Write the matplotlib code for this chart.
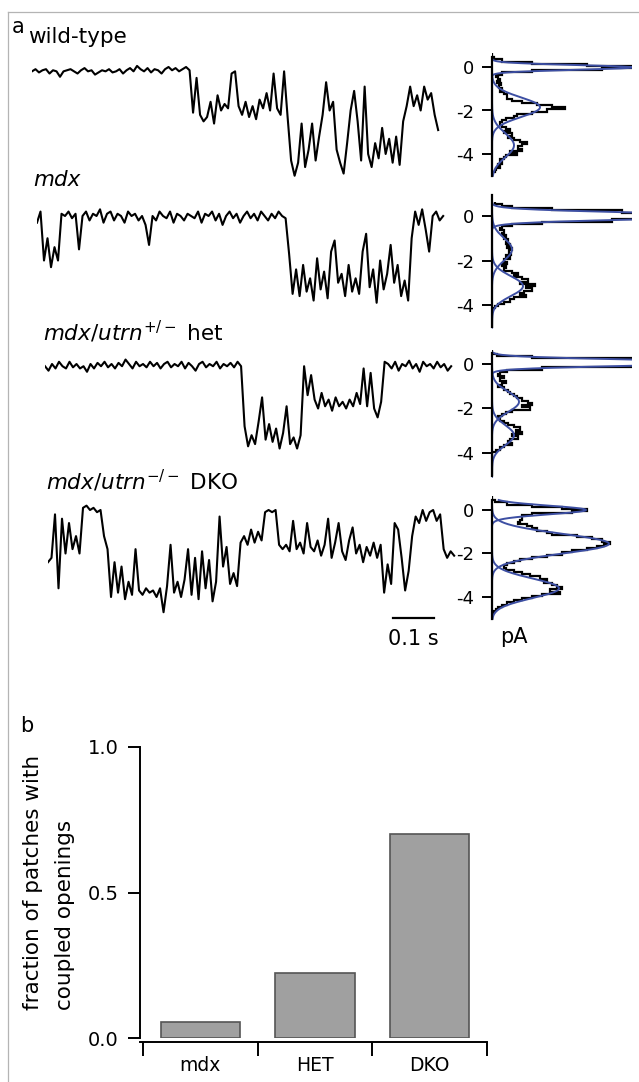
import numpy as np
import matplotlib
matplotlib.use('Agg')
import matplotlib.pyplot as plt
from matplotlib.lines import Line2D

plt.rcParams['font.family'] = ['DejaVu Sans']
plt.rcParams['axes.unicode_minus'] = False
plt.rcParams['mathtext.fontset'] = 'dejavusans'

W, H = 639, 1082

# ---------------- panel a: single-channel traces (pA), sampled every dt seconds
dt = 0.00854

trace_wt = [
    -0.2, -0.1, -0.25, -0.15, -0.1, -0.3, -0.15, -0.2, -0.45, -0.2,
    -0.15, -0.1, -0.2, -0.3, -0.15, -0.05, -0.2, -0.15, -0.35, -0.25,
    -0.15, -0.2, -0.1, -0.25, -0.2, -0.1, -0.3, -0.15, -0.05, -0.2,
    0.05, -0.1, -0.2, -0.05, -0.25, -0.1, -0.15, -0.3, -0.1, 0.0,
    -0.15, -0.05, -0.2, -0.1, 0.0, -0.15,
    -2.1, -0.5, -2.2, -2.5, -2.3, -1.6, -2.6, -1.3, -2.0, -1.7,
    -1.9, -0.3, -0.2, -1.8, -2.2, -1.6, -2.3, -1.8, -2.4, -1.5,
    -1.9, -1.2, -2.0, -0.3, -1.9, -2.2, -0.2, -2.3,
    -4.3, -5.0, -4.4, -2.6, -4.6, -3.8, -2.6, -4.3, -3.2,
    -2.2, -0.7, -2.0, -1.6, -3.8, -4.4, -4.9, -3.5, -2.0, -1.1,
    -2.5, -4.3, -0.9, -4.0, -4.6, -3.5, -4.2, -2.8, -4.0, -3.3,
    -4.4, -3.2, -4.5, -2.5, -1.8, -0.9, -1.8, -1.3, -2.0, -0.9,
    -1.5, -1.2, -2.2, -2.9,
]

trace_mdx = [
    -0.3, 0.2, -2.0, -1.0, -2.3, -1.4, -2.0,
    0.1, 0.0, 0.2, -0.1, 0.1, -1.5, 0.0, 0.2, -0.2, 0.1,
    0.0, 0.3, -0.3, 0.1, 0.2, -0.2, 0.1, 0.0, -0.3, 0.2,
    0.0, 0.1, -0.2, 0.0, -0.4, -1.3, 0.0, -0.2, 0.2, 0.0,
    -0.1, 0.2, -0.3, 0.1, 0.0, -0.2, 0.1, 0.0, -0.1, 0.2,
    -0.3, 0.1, 0.0, 0.2, -0.2, 0.1, -0.4, 0.0, 0.2, -0.1,
    0.1, -0.3, 0.0, 0.2, -0.1, 0.1, -0.2, 0.2, 0.0, -0.2,
    0.1, -0.1, 0.2, 0.0, -0.1,
    -1.7, -3.5, -2.4, -3.6, -2.2, -3.4, -2.8, -3.8, -1.9, -3.3,
    -2.5, -3.7, -1.6, -1.1, -3.0, -2.6, -3.6, -2.2, -3.4, -2.8,
    -3.5, -1.6, -0.8, -3.2, -2.4, -3.9, -2.0, -3.3, -2.6, -1.3,
    -3.0, -2.2, -3.6, -2.9, -3.8, -1.0, 0.2, -0.4, 0.3, -0.6,
    -1.6, 0.0, 0.2, -0.2, 0.0,
]

trace_het = [
    -0.1, -0.3, 0.0, -0.2, 0.1, -0.1, -0.2, 0.1, -0.15, 0.0,
    -0.2, -0.1, -0.35, 0.0, -0.2, 0.05, -0.1, 0.1, -0.15, 0.0,
    -0.2, 0.05, -0.1, 0.2, 0.0, -0.2, 0.1, -0.1, 0.0, -0.15,
    0.1, -0.1, 0.05, -0.2, 0.0, 0.1, -0.15, 0.0, -0.1, 0.1,
    -0.2, 0.05, -0.1, -0.3, 0.0, 0.1, -0.15, 0.0, -0.1, 0.1,
    -0.2, 0.0, -0.1, 0.05, -0.15, 0.1, -0.1,
    -2.8, -3.7, -3.2, -3.6, -2.6, -1.5, -3.4, -2.7, -3.5, -2.9,
    -3.8, -3.1, -1.9, -3.6, -3.3, -3.8, -3.2,
    -0.1,
    -1.4, -0.5, -1.6, -2.0, -1.3, -1.9, -1.6, -2.1, -1.5, -1.9,
    -1.7, -2.0, -1.6, -1.9, -1.3, -1.8, -0.2, -1.9, -0.4, -2.0,
    -2.4, -1.7,
    0.1,
    0.0, -0.2, 0.1, -0.3, 0.0, -0.1, 0.15, -0.2, 0.0, -0.35,
    0.1, -0.1, 0.0, -0.2, 0.1, -0.15, 0.0, -0.3, -0.1,
]

trace_dko = [
    -2.4, -2.2, -0.2, -3.6, -0.4, -2.0, -0.6, -1.8, -1.2, -2.0,
    0.1, 0.2, 0.0, 0.1, -0.1, 0.0, -1.2, -1.8, -4.0, -2.4,
    -3.8, -2.6, -4.1, -3.3, -3.9, -1.8, -3.7, -3.9, -3.6, -3.8,
    -3.7, -4.0, -3.6, -4.7, -3.5, -1.6, -3.8, -3.3, -4.0, -3.2,
    -1.8, -3.9, -2.2, -4.1, -1.9, -3.6, -2.3, -4.2, -3.3, -0.3,
    -2.6, -1.7, -3.4, -2.9, -3.5, -1.5, -1.2, -1.6, -0.9, -1.5,
    -1.0, -1.4, -0.1, 0.0, -0.1, 0.0, -1.6, -1.8, -1.6, -1.9,
    -0.5, -1.8, -1.5, -2.0, -0.6, -1.7, -1.9, -1.4, -2.1, -1.6,
    -0.4, -2.2, -1.5, -0.6, -1.9, -2.3, -1.4, -0.8, -2.0, -1.6,
    -2.4, -1.7, -2.1, -1.5, -2.2, -1.6, -3.8, -2.5, -3.4, -0.6,
    -0.9, -2.2, -3.7, -2.8, -1.2, -0.3, -0.6, 0.0, -0.5, -0.1,
    0.0, -0.5, -0.2, -1.8, -2.2, -1.9, -2.1,
]

# amplitude histograms: counts in 0.1 pA bins centred from +0.6 down to -5.0 pA
hist_centers = np.round(np.arange(0.6, -5.05, -0.1), 1)

hist_wt = [0, 0, 2, 10, 40, 95, 140, 110, 40, 10,
           4, 6, 8, 5, 9, 7, 10, 8, 12, 15,
           15, 20, 30, 45, 60, 73, 55, 40, 25, 22,
           14, 10, 8, 10, 14, 18, 12, 20, 16, 22,
           28, 35, 30, 26, 30, 18, 25, 14, 12, 8,
           10, 6, 8, 4, 3, 0, 0]
hist_mdx = [3, 10, 20, 60, 130, 220, 250, 200, 120, 50,
            20, 10, 8, 12, 10, 14, 12, 16, 14, 18,
            15, 20, 17, 19, 14, 18, 12, 15, 10, 14,
            12, 20, 26, 22, 30, 36, 28, 43, 34, 40,
            32, 28, 34, 22, 18, 12, 6, 3, 0, 0,
            0, 0, 0, 0, 0, 0, 0]
hist_het = [0, 0, 5, 40, 150, 260, 250, 150, 50, 15,
            8, 6, 12, 8, 14, 10, 6, 12, 16, 18,
            22, 25, 30, 36, 40, 30, 38, 20, 14, 10,
            6, 8, 12, 16, 22, 28, 24, 30, 20, 26,
            18, 16, 20, 12, 8, 4, 0, 0, 0, 0,
            0, 0, 0, 0, 0, 0, 0]
hist_dko = [0, 0, 3, 15, 40, 70, 95, 80, 40, 30,
            30, 28, 26, 35, 40, 45, 55, 60, 85, 100,
            110, 118, 112, 105, 95, 80, 70, 55, 40, 28,
            22, 15, 12, 14, 22, 30, 38, 48, 55, 52,
            60, 65, 70, 58, 68, 50, 40, 30, 22, 15,
            10, 6, 4, 2, 0, 0, 0]

# gaussian fits to each histogram: amplitude, mean (pA), sd (pA)
fit_wt_amp = [140, 48, 22]
fit_wt_mu = [-0.02, -1.85, -3.6]
fit_wt_sd = [0.11, 0.45, 0.55]
fit_mdx_amp = [230, 20, 31]
fit_mdx_mu = [0.0, -1.5, -3.15]
fit_mdx_sd = [0.16, 0.5, 0.45]
fit_het_amp = [230, 27, 22]
fit_het_mu = [0.06, -1.7, -3.2]
fit_het_sd = [0.14, 0.45, 0.45]
fit_dko_amp = [94, 117, 67]
fit_dko_mu = [0.0, -1.55, -3.6]
fit_dko_sd = [0.2, 0.45, 0.45]

hist_ticks = [0, -2, -4]
hist_ticklabels = ['0', '-2', '-4']

# ---------------- panel b
genotypes = ['mdx', 'HET', 'DKO']
fraction_coupled = [0.055, 0.225, 0.70]


def px_rect(left, top, right, bottom):
    return [left / W, 1 - bottom / H, (right - left) / W, (bottom - top) / H]


fig = plt.figure(figsize=(W / 100, H / 100), dpi=100)

# light frame around the figure
fig.add_artist(Line2D([8 / W, 1], [1 - 12 / H, 1 - 12 / H], color='#b4b4b4', lw=0.9))
fig.add_artist(Line2D([8 / W, 8 / W], [0, 1 - 12 / H], color='#b4b4b4', lw=0.9))

YLO, YHI = -5.6, 1.1
rows = [
    (trace_wt, hist_wt, (fit_wt_amp, fit_wt_mu, fit_wt_sd), 67, 21.75, 32, (0.46, -5.0)),
    (trace_mdx, hist_mdx, (fit_mdx_amp, fit_mdx_mu, fit_mdx_sd), 216, 22.25, 37, (0.94, -5.0)),
    (trace_het, hist_het, (fit_het_amp, fit_het_mu, fit_het_sd), 364, 22.25, 45, (0.5, -5.05)),
    (trace_dko, hist_dko, (fit_dko_amp, fit_dko_mu, fit_dko_sd), 510, 21.75, 48, (0.46, -5.0)),
]

c_inc = hist_centers[::-1]
edges = np.append(c_inc - 0.05, c_inc[-1] + 0.05)

trace_axes = []
for trace, hist, fit, y0, s, x0, (sp_top, sp_bot) in rows:
    top, bot = y0 - YHI * s, y0 - YLO * s
    ax = fig.add_axes(px_rect(x0, top, x0 + 410, bot))
    ax.patch.set_alpha(0)
    t = np.arange(len(trace)) * dt
    ax.plot(t, trace, color='black', lw=1.5)
    ax.set_xlim(0, 1.0)
    ax.set_ylim(YLO, YHI)
    ax.axis('off')
    trace_axes.append(ax)

    axh = fig.add_axes(px_rect(492, top, 632, bot))
    axh.patch.set_alpha(0)
    assert len(hist) == len(hist_centers)
    axh.stairs(np.array(hist)[::-1], edges, orientation='horizontal',
               color='black', lw=1.6, baseline=None)
    yy = np.linspace(sp_bot, sp_top, 500)
    for a, m, sd in zip(*fit):
        axh.plot(a * np.exp(-0.5 * ((yy - m) / sd) ** 2), yy, color='#3d4fa3', lw=1.4)
    axh.set_xlim(0, 140)
    axh.set_ylim(YLO, YHI)
    for side in ['top', 'right', 'bottom']:
        axh.spines[side].set_visible(False)
    axh.spines['left'].set_bounds(sp_bot, sp_top)
    axh.spines['left'].set_linewidth(1.6)
    axh.set_xticks([])
    axh.set_yticks(hist_ticks)
    axh.set_yticklabels(hist_ticklabels, fontsize=13)
    axh.tick_params(axis='y', direction='out', length=7, width=1.4, pad=6)

# scale bar 0.1 s
ax = trace_axes[-1]
ax.plot([0.842, 0.942], [-4.97, -4.97], color='black', lw=1.6, clip_on=False)
ax.text(0.892, -6.2, '0.1 s', ha='center', va='baseline', fontsize=15)
fig.text(500 / W, 1 - 643 / H, 'pA', ha='left', va='baseline', fontsize=15)

# row labels
fig.text(12 / W, 1 - 33 / H, 'a', fontsize=15, va='baseline')
fig.text(28 / W, 1 - 43 / H, 'wild-type', fontsize=15.5, va='baseline')
fig.text(33 / W, 1 - 186 / H, 'mdx', fontsize=15.5, style='italic', va='baseline')
fig.text(43 / W, 1 - 341 / H, r'$\mathit{mdx/utrn}^{+/-}$ het', fontsize=15.5, va='baseline')
fig.text(46 / W, 1 - 490 / H, r'$\mathit{mdx/utrn}^{-/-}$ DKO', fontsize=15.5, va='baseline')

# ---------------- panel b: bar chart
fig.text(20 / W, 1 - 732 / H, 'b', fontsize=15, va='baseline')
axb = fig.add_axes(px_rect(140, 747, 487, 1038))
x = np.arange(len(genotypes))
axb.bar(x, fraction_coupled, width=0.69, color='#a0a0a0', edgecolor='#555555', lw=1.2)
axb.set_xlim(-0.526, 2.5)
axb.set_ylim(0, 1.0)
for side in ['top', 'right']:
    axb.spines[side].set_visible(False)
axb.spines['bottom'].set_position(('outward', 3))
for side in ['left', 'bottom']:
    axb.spines[side].set_linewidth(1.4)
axb.set_yticks([0, 0.5, 1.0])
axb.set_yticklabels(['0.0', '0.5', '1.0'], fontsize=14)
axb.tick_params(axis='y', direction='out', length=8.6, width=1.4, pad=7)
axb.set_xticks(x)
axb.set_xticklabels(genotypes, fontsize=13.5)
axb.set_xticks([-0.5, 0.5, 1.5, 2.5], minor=True)
axb.tick_params(axis='x', which='major', length=0, pad=10)
axb.tick_params(axis='x', which='minor', direction='out', length=10, width=1.4)

fig.text(33 / W, 1 - 1010 / H, 'fraction of patches with', rotation=90,
         ha='center', va='bottom', fontsize=15.5)
fig.text(65 / W, 1 - 1010 / H, 'coupled openings', rotation=90,
         ha='center', va='bottom', fontsize=15.5)

fig.savefig('out.png', dpi=100)
